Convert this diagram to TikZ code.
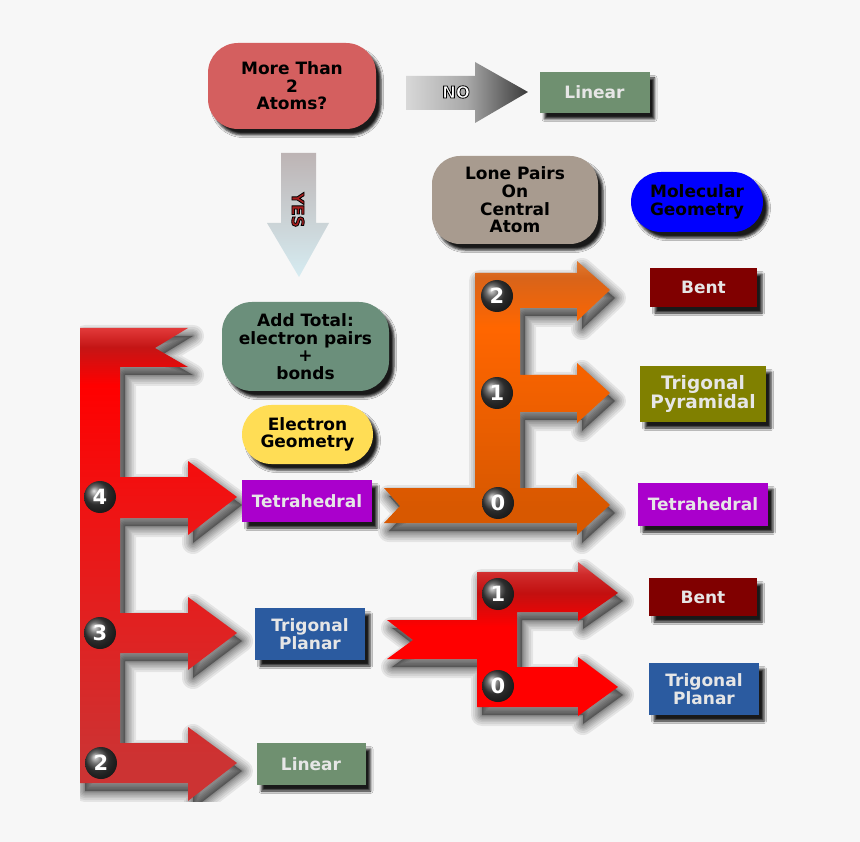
\documentclass[tikz,border=0pt]{standalone}
\usepackage{fontspec}
\setmainfont{DejaVu Sans}
\usetikzlibrary{shadows.blur}
\definecolor{bg}{HTML}{F7F7F7}
\definecolor{lbl}{HTML}{E6E6E6}
\definecolor{moreC}{HTML}{D45F5F}
\definecolor{loneC}{HTML}{A89B8F}
\definecolor{addC}{HTML}{6B8F7B}
\definecolor{linC}{HTML}{6F9070}
\definecolor{elecC}{HTML}{FFDD55}
\definecolor{molC}{HTML}{0000FF}
\definecolor{tetC}{HTML}{AA00CC}
\definecolor{tplC}{HTML}{2B5BA0}
\definecolor{bentC}{HTML}{800000}
\definecolor{tpyC}{HTML}{808000}
\definecolor{yesC}{HTML}{A82020}
\definecolor{yTop}{HTML}{BDB4B4}
\definecolor{yMid}{HTML}{F2D9DA}
\definecolor{yBot}{HTML}{D6ECF2}
\definecolor{nL}{HTML}{D8D8D8}
\definecolor{nM}{HTML}{A8A8A8}
\definecolor{nR}{HTML}{3A3A3A}
% left E shading
\definecolor{lA}{HTML}{E23A3A}\definecolor{lB}{HTML}{C41515}\definecolor{lC}{HTML}{FF0000}
\definecolor{lD}{HTML}{F01212}\definecolor{lE}{HTML}{E02222}\definecolor{lF}{HTML}{CC3333}
\pgfdeclareverticalshading{leftE}{100bp}{color(0bp)=(lF); color(29bp)=(lF); color(43bp)=(lE); color(57bp)=(lD); color(69bp)=(lC); color(73bp)=(lB); color(75bp)=(lA); color(100bp)=(lA)}
% orange E shading
\definecolor{oA}{HTML}{E07A30}\definecolor{oB}{HTML}{D8641A}\definecolor{oC}{HTML}{FF6600}
\definecolor{oD}{HTML}{F06000}\definecolor{oE}{HTML}{D85800}
\pgfdeclareverticalshading{orangeE}{100bp}{color(0bp)=(oE); color(30bp)=(oE); color(50bp)=(oD); color(63bp)=(oC); color(72bp)=(oB); color(75bp)=(oA); color(100bp)=(oA)}
% lower red E shading
\definecolor{rA}{HTML}{E05050}\definecolor{rB}{HTML}{CF2A2A}\definecolor{rC}{HTML}{C21010}
\definecolor{rD}{HTML}{E80606}\definecolor{rE}{HTML}{FF0000}
\pgfdeclareverticalshading{lowE}{100bp}{color(0bp)=(rE); color(54bp)=(rE); color(58bp)=(rD); color(65bp)=(rC); color(71bp)=(rB); color(75bp)=(rA); color(100bp)=(rA)}
\font\olfnt="DejaVu Sans/B:embolden=5" at 16.5pt
\newcommand\outlinedtext[2]{\textcolor{#1}{\special{pdf:literal 0 G}\olfnt #2}}
% shape outlines
\newcommand\leftEpath{(80,328) -- (188,328) -- (155,348) -- (188,367) -- (120,367) -- (120,477) -- (188,477) -- (188,461) -- (237,497) -- (188,535) -- (188,518) -- (120,518) -- (120,613) -- (188,613) -- (188,597) -- (237,633) -- (188,670) -- (188,653) -- (120,653) -- (120,743) -- (188,743) -- (188,727) -- (237,763) -- (188,801) -- (188,783) -- (80,783) -- cycle}
\newcommand\orangeEpath{(475,273) -- (577,273) -- (577,261) -- (610,290) -- (577,321) -- (577,308) -- (520,308) -- (520,375) -- (577,375) -- (577,363) -- (610,393) -- (577,423) -- (577,412) -- (520,412) -- (520,488) -- (577,488) -- (577,474) -- (610,505) -- (577,535) -- (577,523) -- (384,523) -- (400,506) -- (384,488) -- (475,488) -- cycle}
\newcommand\lowEpath{(477,572) -- (578,572) -- (578,562) -- (618,593) -- (578,621) -- (578,612) -- (517,612) -- (517,667) -- (578,667) -- (578,657) -- (618,687) -- (578,716) -- (578,707) -- (477,707) -- (477,659) -- (387,659) -- (413,640) -- (387,620) -- (477,620) -- cycle}
\tikzset{
  boxshadow/.style={blur shadow={shadow xshift=5pt,shadow yshift=-6pt,shadow blur radius=2.5pt,shadow opacity=90}},
  softshadow/.style={draw=black, opacity=0.075, line width=#1, line join=round, shift={(5,8)}},
  lblfont/.style={font=\bfseries\fontsize{17}{17.6}\selectfont},
  rectbox/.style={boxshadow, lblfont, text=lbl, inner sep=0pt, align=center},
  roundbox/.style={boxshadow, lblfont, text=black, inner sep=0pt, align=center, rounded corners=#1},
  numball/.style={circle, minimum size=32pt, inner sep=0pt, shading=ball, ball color=black!75, text=white, font=\bfseries\fontsize{21}{21}\selectfont},
}
\newcommand\softlayers[1]{%
  \fill[black, opacity=0.35, shift={(5,8)}] #1;
  \foreach \w in {22pt,18pt,14pt,11pt,8pt,5pt,3pt,1pt} {\draw[softshadow=\w] #1;}}
\begin{document}
\begin{tikzpicture}[x=1pt,y=-1pt]
\useasboundingbox (0,0) rectangle (860,842);
\fill[bg] (0,0) rectangle (860,842);

% ---- top decision ----
\node[roundbox=30pt, fill=moreC, minimum width=168pt, minimum height=86pt] (more) at (292,86) {More Than\\2\\Atoms?};
\shade[left color=nL, right color=nR, middle color=nM] (406,76) -- (475,76) -- (475,62) -- (528,92) -- (475,123) -- (475,110) -- (406,110) -- cycle;
\node[inner sep=0pt] (no) at (456,92) {\outlinedtext{white}{NO}};
\node[rectbox, fill=linC, minimum width=110pt, minimum height=41pt] (lin1) at (594.5,92.5) {Linear};

\shade[top color=yTop, middle color=yMid, bottom color=yBot] (281,153) -- (316,153) -- (316,223) -- (329,223) -- (299,277) -- (267,223) -- (281,223) -- cycle;
\node[rotate=-90, inner sep=0pt] (yes) at (298,210) {\outlinedtext{yesC}{YES}};

\node[roundbox=28pt, fill=loneC, minimum width=166pt, minimum height=88pt] (lone) at (515,200) {Lone Pairs\\On\\Central\\Atom};
\node[roundbox=30pt, fill=molC, minimum width=132pt, minimum height=60pt] (mol) at (697,202) {Molecular\\Geometry};

\node[roundbox=30pt, fill=addC, minimum width=167pt, minimum height=89pt] (add) at (305.5,346.5) {Add Total:\\electron pairs\\+\\bonds};
\node[roundbox=29.5pt, fill=elecC, minimum width=131pt, minimum height=59pt] (elec) at (307.5,434.5) {Electron\\Geometry};

% ---- soft shadows of the branching arrows ----
\begin{scope}
\clip (80,0) rectangle (860,801);
\softlayers{\leftEpath}
\end{scope}
\softlayers{\orangeEpath}
\softlayers{\lowEpath}

% ---- left E ----
\begin{scope}
\clip (80,0) rectangle (860,801);
\shade[shading=leftE] \leftEpath;
\end{scope}
\node[numball] (n4) at (100,497) {4};
\node[numball] (n3) at (100,633) {3};
\node[numball] (n2) at (101,763) {2};

\node[rectbox, fill=tetC, minimum width=130pt, minimum height=42pt] (tet1) at (307,501) {Tetrahedral};
\node[rectbox, fill=tplC, minimum width=110pt, minimum height=52pt] (tpl1) at (310,634) {Trigonal\\Planar};
\node[rectbox, fill=linC, minimum width=109pt, minimum height=42pt] (lin2) at (311,764) {Linear};

% ---- orange E ----
\shade[shading=orangeE] \orangeEpath;
\node[numball] (o2) at (497,296) {2};
\node[numball] (o1) at (497,393) {1};
\node[numball] (o0) at (498,503) {0};

\node[rectbox, fill=bentC, minimum width=107pt, minimum height=39pt] (bent1) at (703.5,287.5) {Bent};
\node[rectbox, fill=tpyC, minimum width=126pt, minimum height=56pt, font=\bfseries\fontsize{18.5}{18}\selectfont] (tpy) at (703,394) {Trigonal\\Pyramidal};
\node[rectbox, fill=tetC, minimum width=130pt, minimum height=43pt] (tet2) at (703,504.5) {Tetrahedral};

% ---- lower red E ----
\shade[shading=lowE] \lowEpath;
\node[numball] (r1) at (498,594) {1};
\node[numball] (r0) at (498,686) {0};

\node[rectbox, fill=bentC, minimum width=108pt, minimum height=38pt] (bent2) at (703,597) {Bent};
\node[rectbox, fill=tplC, minimum width=110pt, minimum height=52pt] (tpl2) at (704,689) {Trigonal\\Planar};
\end{tikzpicture}
\end{document}
